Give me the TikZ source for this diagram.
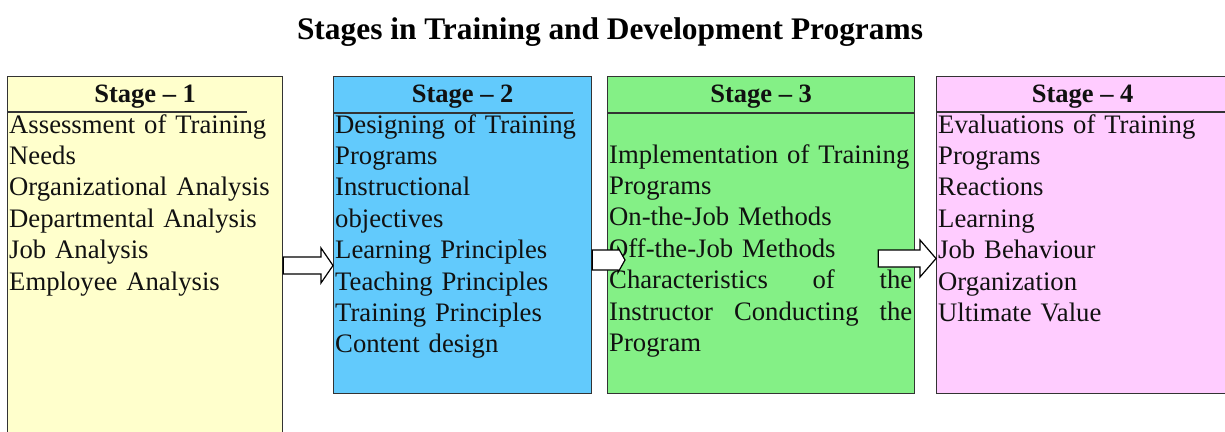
\documentclass[tikz,border=0pt]{standalone}
\usepackage{fontspec}
\setmainfont{Liberation Serif}
\usetikzlibrary{calc}

\definecolor{stageyellow}{HTML}{FFFFCC}
\definecolor{stageblue}{HTML}{62CAFC}
\definecolor{stagegreen}{HTML}{84F086}
\definecolor{stagepink}{HTML}{FFCCFF}
\definecolor{boxline}{HTML}{333333}
\definecolor{inktext}{HTML}{111111}

% horizontal block arrow: #1 start, #2 tip, #3 shaft half-height, #4 head half-height, #5 head length
\newcommand\blockarrow[5]{%
  \draw[blockarrowstyle] let \p1=(#1), \p2=(#2) in
    (\x1,\y1+#3pt) -- (\x2-#5pt,\y1+#3pt) -- (\x2-#5pt,\y1+#4pt) -- (\x2,\y1)
    -- (\x2-#5pt,\y1-#4pt) -- (\x2-#5pt,\y1-#3pt) -- (\x1,\y1-#3pt) -- cycle;}

\begin{document}
\begin{tikzpicture}[x=1pt,y=-1pt,
  stagebox/.style={draw=boxline, line width=1.3pt, inner sep=0pt, anchor=north west},
  headtext/.style={font=\fontsize{26.5}{31}\selectfont\bfseries, text=inktext, anchor=base, inner sep=0pt},
  bodytext/.style={font=\fontsize{26.7}{31.4}\selectfont, text=inktext, anchor=base west,
    inner sep=0pt, align=left},
  headrule/.style={draw=boxline, line width=1.1pt},
  blockarrowstyle/.style={draw=black, fill=white, line width=1.2pt, line join=miter},
  titletext/.style={font=\fontsize{31.4}{36}\selectfont\bfseries, text=black, anchor=base, inner sep=0pt}]

\useasboundingbox[fill=white] (0,0) rectangle (1225,431);

% title
\node[titletext] (title) at (610,39) {Stages in Training and Development Programs};

% the four stage boxes
\node[stagebox, fill=stageyellow, minimum width=275pt, minimum height=364pt] (b1) at (7,76) {};
\node[stagebox, fill=stageblue,   minimum width=258pt, minimum height=317pt] (b2) at (333,76) {};
\node[stagebox, fill=stagegreen,  minimum width=307pt, minimum height=317pt] (b3) at (607,76) {};
\node[stagebox, fill=stagepink,   minimum width=292pt, minimum height=317pt] (b4) at (936,76) {};

% headings and rules under them
\node[headtext] (h1) at ($(b1.north)+(0,26)$) {Stage -- 1};
\node[headtext] (h2) at ($(b2.north)+(0,26)$) {Stage -- 2};
\node[headtext] (h3) at ($(b3.north)+(0,26)$) {Stage -- 3};
\node[headtext] (h4) at ($(b4.north)+(0,26)$) {Stage -- 4};

\draw[headrule] ($(b1.north west)+(0,36)$) -- ++(240,0);
\draw[headrule] ($(b2.north west)+(0,37)$) -- ++(240,0);
\draw[headrule] ($(b3.north west)+(0,37)$) -- ($(b3.north east)+(0,37)$);
\draw[headrule] ($(b4.north west)+(0,36)$) -- ($(b4.north east)+(0,36)$);

% stage contents
\node[bodytext, text width=280pt] (t1) at ($(b1.north west)+(2,57)$) {%
  Assessment of Training\\ Needs\\ Organizational Analysis\\ Departmental Analysis\\
  Job Analysis\\ Employee Analysis};

\node[bodytext, text width=280pt] (t2) at ($(b2.north west)+(2,57)$) {%
  Designing of Training\\ Programs\\ Instructional\\ objectives\\ Learning Principles\\
  Teaching Principles\\ Training Principles\\ Content design};

\node[bodytext, text width=330pt] (t3) at ($(b3.north west)+(2,87)$) {%
  Implementation of Training\\ Programs\\ On-the-Job Methods\\ Off-the-Job Methods\\
  \makebox[303pt][l]{Characteristics\hfill of\hfill the}\\
  \makebox[303pt][l]{Instructor\hfill Conducting\hfill the}\\ Program};

\node[bodytext, text width=288pt] (t4) at ($(b4.north west)+(2,57)$) {%
  Evaluations of Training\\ Programs\\ Reactions\\ Learning\\ Job Behaviour\\
  Organization\\ Ultimate Value};

% arrows between stages
\coordinate (a1s) at (b1.east |- 0,265.5);
\coordinate (a1e) at (b2.west |- 0,265.5);
\coordinate (a2s) at (b2.east |- 0,260);
\coordinate (a2e) at ($(b3.west |- 0,260)+(18,0)$);
\coordinate (a3s) at ($(b3.east |- 0,258.5)+(-37,0)$);
\coordinate (a3e) at (b4.west |- 0,258.5);

\blockarrow{a1s}{a1e}{8.5}{17.5}{12}
\blockarrow{a2s}{a2e}{10}{12.5}{7}
\blockarrow{a3s}{a3e}{8.5}{18.5}{16}

\end{tikzpicture}
\end{document}
